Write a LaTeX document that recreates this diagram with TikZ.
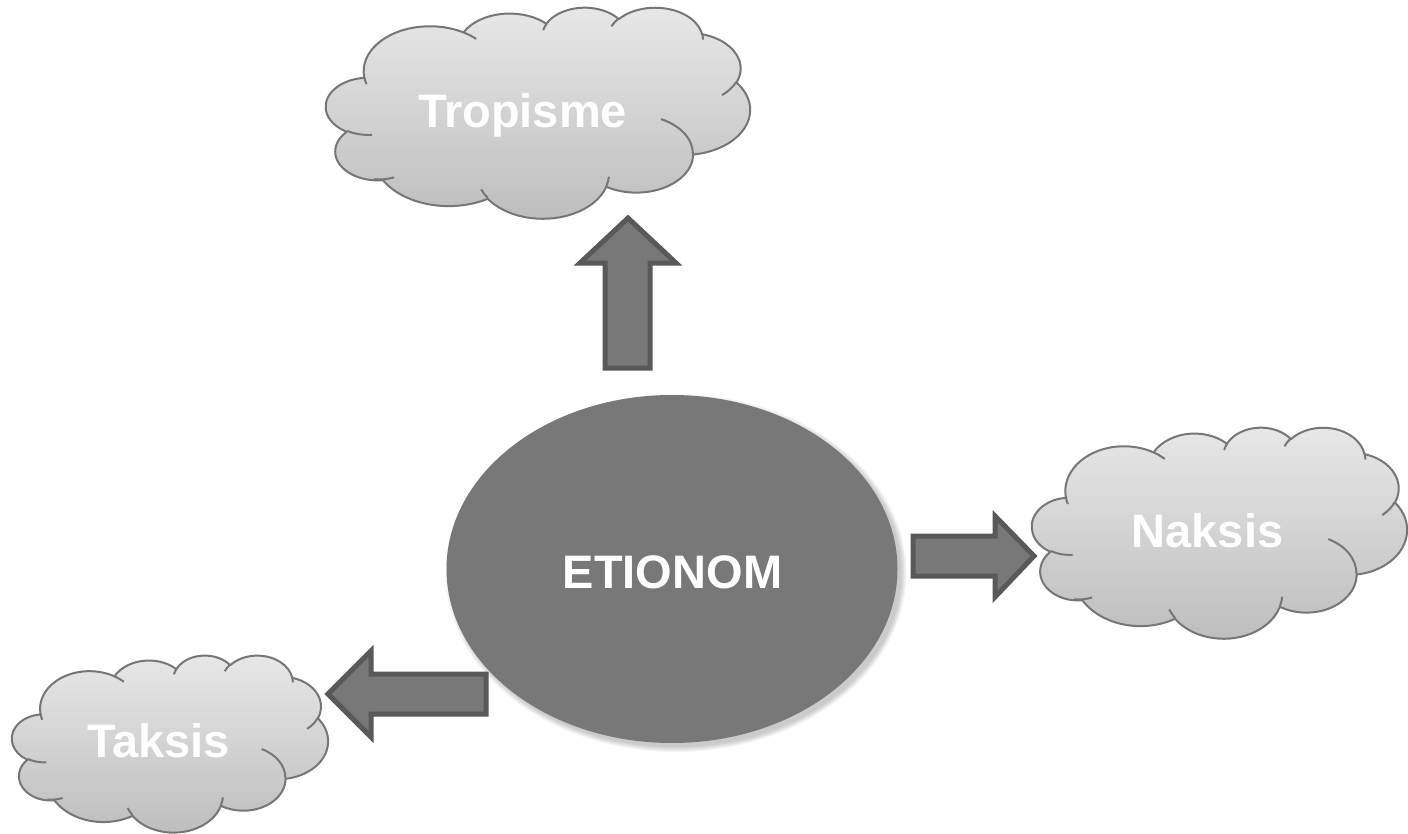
\documentclass[tikz,border=0pt]{standalone}
\usepackage{fontspec}
\setmainfont{Liberation Sans}
\usetikzlibrary{shapes.geometric}
\definecolor{cloudtop}{HTML}{E8E8E8}
\definecolor{cloudbot}{HTML}{BDBDBD}
\definecolor{cloudline}{HTML}{767676}
\definecolor{ellfill}{HTML}{787878}
\definecolor{arrfill}{HTML}{787878}
\definecolor{arrline}{HTML}{595959}
% convert DrawingML visual angles to parametric ones and store as a style
\newcommand\defcloudarc[5]{%
  \pgfmathsetmacro\cloudtA{atan2((#2)*sin(#4),(#3)*cos(#4))}%
  \pgfmathsetmacro\cloudtB{atan2((#2)*sin((#4)+(#5)),(#3)*cos((#4)+(#5)))}%
  \pgfmathsetmacro\cloudtD{mod(\cloudtB-\cloudtA+720,360)}%
  \edef\cloudtmp{\noexpand\tikzset{#1/.style={start angle=\cloudtA, delta angle=\cloudtD, x radius=#2, y radius=#3}}}%
  \cloudtmp
}
\defcloudarc{cldA}{67.53}{91.90}{-190.4875}{123.7805}
\defcloudarc{cldB}{53.33}{72.67}{-144.1024}{89.9452}
\defcloudarc{cldC}{43.65}{59.45}{-145.8079}{99.7230}
\defcloudarc{cldD}{48.57}{65.95}{-130.9861}{117.2417}
\defcloudarc{cldE}{53.33}{72.73}{-78.7089}{109.0269}
\defcloudarc{cldF}{67.75}{92.20}{-46.2673}{130.2690}
\defcloudarc{cldG}{57.85}{78.67}{0.6250}{114.0333}
\defcloudarc{cldH}{67.52}{92.15}{22.4516}{115.1726}
\defcloudarc{cldI}{77.20}{105.43}{66.2426}{75.7110}
\defcloudarc{cldJ}{43.60}{59.18}{-274.9421}{146.7356}
\defcloudarc{cldK}{43.45}{59.45}{-246.8285}{152.5189}
\defcloudarc{cldiA}{43.45}{59.45}{86.7420}{26.4295}
\defcloudarc{cldiB}{43.60}{59.18}{73.6105}{20.9683}
\defcloudarc{cldiC}{67.52}{92.15}{137.6242}{14.0811}
\defcloudarc{cldiD}{67.52}{92.15}{6.4533}{15.9984}
\defcloudarc{cldiE}{57.85}{78.67}{-70.2924}{70.9174}
\defcloudarc{cldiF}{53.33}{72.73}{30.3180}{27.7515}
\defcloudarc{cldiG}{48.57}{65.95}{-13.7443}{14.8589}
\defcloudarc{cldiH}{48.57}{65.95}{-149.1815}{18.1954}
\defcloudarc{cldiI}{43.65}{59.45}{-163.4943}{17.6864}
\defcloudarc{cldiJ}{67.53}{91.90}{-66.7070}{12.3194}
\defcloudarc{cldiK}{67.53}{91.90}{157.6544}{11.8582}
\newcommand\cloudoutline{(39.00,143.70) arc[cldA] arc[cldB] arc[cldC] arc[cldD] arc[cldE] arc[cldF] arc[cldG] arc[cldH] arc[cldI] arc[cldJ] arc[cldK] -- cycle}
\newcommand\cloudinner{(46.93,261.77) arc[cldiA] (69.28,348.99) arc[cldiB] (164.78,390.90) arc[cldiC] (288.27,347.51) arc[cldiD] (341.29,229.54) arc[cldiE] (417.98,153.54) arc[cldiF] (383.24,54.26) arc[cldiG] (290.78,39.52) arc[cldiH] (221.41,47.20) arc[cldiI] (140.00,51.92) arc[cldiJ] (41.27,157.89) arc[cldiK]}
\tikzset{
  cloudbody/.style={draw=cloudline, line width=2pt, top color=cloudtop, bottom color=cloudbot, line join=round},
  cloudlines/.style={draw=cloudline, line width=2pt},
  blockarrow/.style={draw=arrline, fill=arrfill, line width=5pt, line join=miter},
  lbl/.style={text=white, font=\bfseries\fontsize{47}{56}\selectfont, inner sep=0pt, anchor=base},
  centerell/.style={ellipse, fill=ellfill, minimum width=451pt, minimum height=348pt, inner sep=0pt},
  shadowell/.style={ellipse, fill=black, opacity=0.035, inner sep=0pt}
}
\begin{document}
\begin{tikzpicture}[x=1pt,y=-1pt]
\fill[white] (0,0) rectangle (1408,833);
\useasboundingbox (0,0) rectangle (1408,833);
% clouds
\begin{scope}[shift={(326,7)}, x=0.9815pt, y=-0.4884pt]
  \path[cloudbody] \cloudoutline;
  \path[cloudlines] \cloudinner;
\end{scope}
\begin{scope}[shift={(1032,427)}, x=0.868pt, y=-0.4884pt]
  \path[cloudbody] \cloudoutline;
  \path[cloudlines] \cloudinner;
\end{scope}
\begin{scope}[shift={(12,655)}, x=0.7315pt, y=-0.4097pt]
  \path[cloudbody] \cloudoutline;
  \path[cloudlines] \cloudinner;
\end{scope}
% central ellipse with soft shadow
\foreach \k in {0,2,...,10}{
  \node[shadowell, minimum width={451pt+\k pt}, minimum height={348pt+\k pt}] at (676,573) {};
}
\node[centerell] (etion) at (672,569) {};
% block arrows
\draw[blockarrow] (605,368) -- (605,263) -- (580,263) -- (628,218) -- (676,263) -- (650,263) -- (650,368) -- cycle;
\draw[blockarrow] (913,536) -- (995,536) -- (995,516) -- (1034,556) -- (995,597) -- (995,576) -- (913,576) -- cycle;
\draw[blockarrow] (486,674) -- (371,674) -- (371,651) -- (328,694) -- (371,737) -- (371,714) -- (486,714) -- cycle;
% labels
\node[lbl] (etxt) at (672.5,588) {ETIONOM};
\node[lbl] (trop) at (522.5,127) {Tropisme};
\node[lbl] (naks) at (1207.5,547) {Naksis};
\node[lbl] (taks) at (158.5,757) {Taksis};
\end{tikzpicture}
\end{document}
